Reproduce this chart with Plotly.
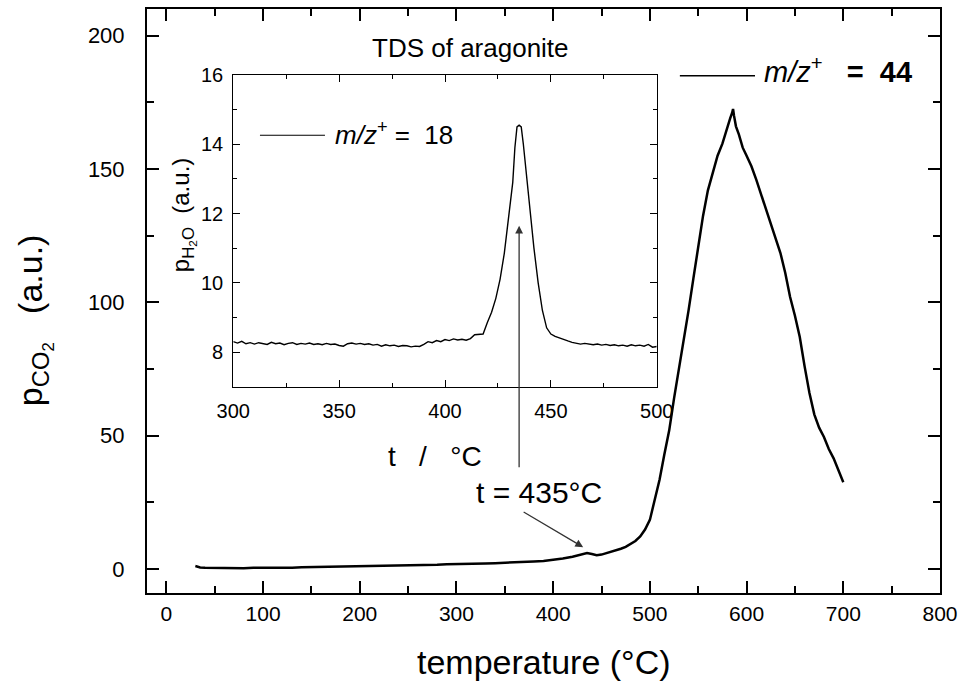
import plotly.graph_objects as go

# ---- main curve: CO2 (m/z+ = 44) ----
temperature = [30, 35, 40, 50, 60, 70, 80, 90, 100, 110, 120, 130, 140, 150, 160, 170, 180, 190,
               200, 210, 220, 230, 240, 250, 260, 270, 280, 290, 300, 310, 320, 330, 340, 350,
               360, 370, 380, 390, 400, 410, 420, 425, 430, 435, 440, 445, 450, 455, 460, 465,
               470, 475, 480, 485, 490, 495, 500, 505, 510, 515, 520, 525, 530, 535, 540, 545,
               550, 555, 560, 565, 570, 575, 580, 583, 585, 586, 587, 589, 592, 596, 600, 605,
               610, 615, 620, 625, 630, 635, 640, 645, 650, 655, 660, 665, 670, 675, 680, 685,
               690, 695, 700]
p_co2 = [1.1, 0.6, 0.45, 0.35, 0.3, 0.4, 0.3, 0.45, 0.4, 0.5, 0.55, 0.5, 0.65, 0.7, 0.75, 0.8, 0.85, 0.9,
         1.0, 1.05, 1.1, 1.2, 1.25, 1.4, 1.45, 1.55, 1.6, 1.75, 1.9, 1.95, 2.0, 2.1, 2.2, 2.3,
         2.45, 2.6, 2.8, 3.0, 3.4, 3.9, 4.6, 5.0, 5.4, 6.0, 5.6, 5.2, 5.4, 5.9, 6.4, 6.9,
         7.6, 8.3, 9.3, 10.5, 12.2, 14.8, 18.4, 26.0, 33.5, 43.0, 52.0, 64.0, 75.0, 85.0, 97.0, 109.0,
         121.0, 132.5, 142.0, 149.0, 155.0, 159.5, 166.0, 169.0, 171.0, 172.5, 170.0, 166.0, 163.0, 158.0, 155.0, 151.0,
         146.0, 140.5, 135.5, 129.5, 124.0, 118.5, 111.0, 102.0, 95.0, 87.0, 76.0, 66.0, 58.0, 53.0, 49.5, 45.0,
         41.5, 37.0, 32.5]

# ---- inset curve: H2O (m/z+ = 18) ----
t_inset = [300, 302, 304, 306, 308, 310, 312, 314, 316, 318, 320, 322, 324, 326, 328, 330, 332, 334,
           336, 338, 340, 342, 344, 346, 348, 350, 352, 354, 356, 358, 360, 362, 364, 366, 368, 370,
           372, 374, 376, 378, 380, 382, 384, 386, 388, 390, 392, 394, 396, 398, 400, 402, 404, 406,
           408, 410, 412, 414, 416, 418, 420, 422, 424, 426, 428, 430, 432, 433, 434, 435, 436, 437,
           438, 440, 442, 444, 446, 448, 450, 452, 454, 456, 458, 460, 462, 464, 466, 468, 470, 472,
           474, 476, 478, 480, 482, 484, 486, 488, 490, 492, 494, 496, 498, 500]
p_h2o = [8.30, 8.26, 8.31, 8.24, 8.27, 8.23, 8.27, 8.25, 8.22, 8.28, 8.24, 8.26, 8.21, 8.25, 8.27, 8.22, 8.25, 8.23,
         8.26, 8.22, 8.24, 8.21, 8.25, 8.22, 8.23, 8.19, 8.17, 8.24, 8.26, 8.23, 8.25, 8.22, 8.24, 8.20, 8.22, 8.17,
         8.21, 8.18, 8.20, 8.16, 8.19, 8.18, 8.15, 8.17, 8.16, 8.22, 8.30, 8.27, 8.33, 8.30, 8.36, 8.33, 8.38, 8.35,
         8.37, 8.34, 8.39, 8.50, 8.50, 8.52, 8.85, 9.15, 9.55, 10.1, 10.85, 11.8, 12.9, 13.9, 14.5, 14.55, 14.5, 14.0,
         13.4, 12.1, 11.0, 10.0, 9.2, 8.7, 8.52, 8.45, 8.40, 8.36, 8.32, 8.28, 8.26, 8.23, 8.25, 8.22, 8.21, 8.23,
         8.20, 8.22, 8.19, 8.21, 8.18, 8.20, 8.17, 8.21, 8.18, 8.20, 8.17, 8.22, 8.14, 8.16]

main_xticks = [0, 100, 200, 300, 400, 500, 600, 700, 800]
main_yticks = [0, 50, 100, 150, 200]
inset_xticks = [300, 350, 400, 450, 500]
inset_yticks = [8, 10, 12, 14, 16]

FONT = "Liberation Sans, Arial, sans-serif"

fig = go.Figure()
fig.add_trace(go.Scatter(x=temperature, y=p_co2, mode="lines",
                         line=dict(color="black", width=2.5), xaxis="x", yaxis="y",
                         showlegend=False))
fig.add_trace(go.Scatter(x=t_inset, y=p_h2o, mode="lines",
                         line=dict(color="black", width=1.4), xaxis="x2", yaxis="y2",
                         showlegend=False))

axis_common = dict(showline=True, linecolor="black", mirror="allticks", ticks="inside",
                   tickcolor="black", showgrid=False, zeroline=False, automargin=False)

fig.update_layout(
    width=960, height=687,
    margin=dict(l=147, r=20, t=9, b=94, autoexpand=False),
    paper_bgcolor="white", plot_bgcolor="white",
    font=dict(family=FONT, color="black"),
    xaxis=dict(range=[-20, 800], tickvals=main_xticks, ticklen=12, tickwidth=2, linewidth=2,
               tickfont=dict(size=21), ticklabelstandoff=1,
               minor=dict(ticks="inside", dtick=50, tick0=0, ticklen=7, tickwidth=2, tickcolor="black"),
               **axis_common),
    yaxis=dict(range=[-9, 210], tickvals=main_yticks, ticklen=12, tickwidth=2, linewidth=2,
               tickfont=dict(size=22), ticklabelstandoff=16,
               minor=dict(ticks="inside", dtick=25, tick0=0, ticklen=7, tickwidth=2, tickcolor="black"),
               **axis_common),
    xaxis2=dict(domain=[0.1088, 0.6428], anchor="y2", range=[300, 500], tickvals=inset_xticks,
                ticklen=7, tickwidth=1.3, linewidth=1.3, tickfont=dict(size=20), ticklabelstandoff=6,
                minor=dict(ticks="inside", dtick=25, tick0=300, ticklen=4, tickwidth=1.3, tickcolor="black"),
                **axis_common),
    yaxis2=dict(domain=[0.3533, 0.887], anchor="x2", range=[7, 16], tickvals=inset_yticks,
                ticklen=7, tickwidth=1.3, linewidth=1.3, tickfont=dict(size=20), ticklabelstandoff=5,
                minor=dict(ticks="inside", dtick=1, tick0=7, ticklen=4, tickwidth=1.3, tickcolor="black"),
                **axis_common),
)

ann = []
# axis titles
ann.append(dict(text="temperature (°C)", xref="paper", yref="paper", x=0.5, y=-0.118,
                showarrow=False, font=dict(size=34), xanchor="center", yanchor="middle"))
ann.append(dict(text="p<sub>CO<sub>2</sub></sub>   (a.u.)", xref="paper", yref="paper",
                x=-0.141, y=0.4675, textangle=-90, showarrow=False, font=dict(size=34),
                xanchor="center", yanchor="middle"))
ann.append(dict(text="t   /   °C", xref="paper", yref="paper", x=0.363, y=0.233,
                showarrow=False, font=dict(size=28), xanchor="center", yanchor="middle"))
ann.append(dict(text="p<sub>H<sub>2</sub>O</sub>  (a.u.)", xref="paper", yref="paper",
                x=0.0454, y=0.647, textangle=-90, showarrow=False, font=dict(size=24),
                xanchor="center", yanchor="middle"))
# title
ann.append(dict(text="TDS of aragonite", xref="x", yref="y", x=314, y=195.5, showarrow=False,
                font=dict(size=26), xanchor="center", yanchor="middle"))
# legends
ann.append(dict(text="<i>m/z</i><sup>+</sup>   <b>=  44</b>", xref="x", yref="y", x=616, y=187,
                showarrow=False, font=dict(size=29), xanchor="left", yanchor="middle"))
ann.append(dict(text="<i>m/z</i><sup>+</sup> =  18", xref="x2", yref="y2", x=347, y=14.3,
                showarrow=False, font=dict(size=26), xanchor="left", yanchor="middle"))
# arrows
ann.append(dict(text="", xref="x2", yref="y2", x=435, y=11.65, ax=0, ay=243, showarrow=True,
                arrowhead=2, arrowsize=1.2, arrowwidth=1.3, arrowcolor="#333333"))
ann.append(dict(text="", xref="x", yref="y", x=431, y=8.2, ax=-61, ay=-36, showarrow=True,
                arrowhead=2, arrowsize=1.2, arrowwidth=1.3, arrowcolor="#333333"))
ann.append(dict(text="t = 435°C", xref="x", yref="y", x=385.5, y=28.7, showarrow=False,
                font=dict(size=30), xanchor="center", yanchor="middle"))
fig.update_layout(annotations=ann)

shapes = [
    dict(type="line", xref="x", yref="y", x0=531, x1=608.7, y0=185, y1=185,
         line=dict(color="black", width=1.5)),
    dict(type="line", xref="x2", yref="y2", x0=312.6, x1=343.3, y0=14.26, y1=14.26,
         line=dict(color="black", width=1.2)),
]
fig.update_layout(shapes=shapes)

fig.write_html("out.html")
